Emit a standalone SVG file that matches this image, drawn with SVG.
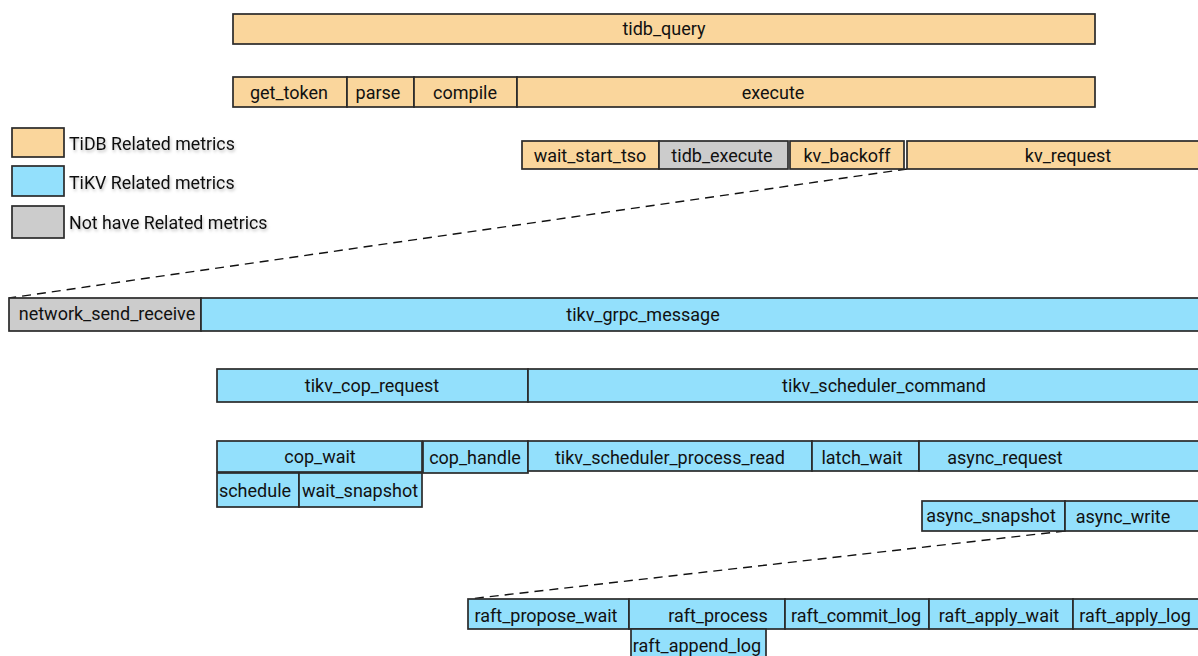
<svg xmlns="http://www.w3.org/2000/svg" width="1198" height="656" viewBox="0 0 1198 656">
<defs>
<style>
.db,.kv,.na{stroke:#2a2a2a;stroke-width:1.7}
.db{fill:#FAD69C}
.kv{fill:#93E0FC}
.na{fill:#CCCCCC}
text{font-family:Roboto,"Liberation Sans",sans-serif;font-size:18px;fill:#111;text-anchor:middle;dominant-baseline:central}
.lg{text-anchor:start;font-size:17.8px}
.dash{stroke:#111;stroke-width:1.4;stroke-dasharray:9 6;fill:none}
</style>
<filter id="sh" x="-10%" y="-30%" width="130%" height="180%">
<feDropShadow dx="1" dy="2" stdDeviation="1.5" flood-color="#000" flood-opacity="0.25"/>
</filter>
</defs>
<rect width="1198" height="656" fill="#fff"/>

<g id="legend">
<rect class="db" x="12" y="128" width="52" height="29"/>
<text class="lg" x="69" y="143" filter="url(#sh)">TiDB Related metrics</text>
<rect class="kv" x="12" y="166" width="52" height="30"/>
<text class="lg" x="69" y="182" filter="url(#sh)">TiKV Related metrics</text>
<rect class="na" x="12" y="206" width="52" height="32"/>
<text class="lg" x="69" y="222" filter="url(#sh)">Not have Related metrics</text>
</g>

<g id="connectors">
<line class="dash" x1="907" y1="169" x2="9" y2="298"/>
<line class="dash" x1="1065" y1="531" x2="469" y2="599"/>
</g>

<g id="tidb_query"><rect class="db" x="233" y="14" width="862" height="30"/><text x="664" y="28">tidb_query</text></g>

<g id="get_token"><rect class="db" x="233" y="77" width="114" height="30"/><text x="289" y="92">get_token</text></g>
<g id="parse"><rect class="db" x="347" y="77" width="67" height="30"/><text x="378" y="92">parse</text></g>
<g id="compile"><rect class="db" x="414" y="77" width="103" height="30"/><text x="465" y="92">compile</text></g>
<g id="execute"><rect class="db" x="517" y="77" width="578" height="30"/><text x="773" y="92">execute</text></g>

<g id="wait_start_tso"><rect class="db" x="522" y="141" width="137" height="28"/><text x="590" y="155">wait_start_tso</text></g>
<g id="tidb_execute"><rect class="na" x="659" y="141" width="129" height="28"/><text x="722" y="155">tidb_execute</text></g>
<g id="kv_backoff"><rect class="db" x="790" y="141" width="114" height="28"/><text x="847" y="155">kv_backoff</text></g>
<g id="kv_request"><rect class="db" x="907" y="141" width="292" height="28"/><text x="1068" y="155">kv_request</text></g>

<g id="network_send_receive"><rect class="na" x="9" y="298" width="192" height="33"/><text x="107" y="313">network_send_receive</text></g>
<g id="tikv_grpc_message"><rect class="kv" x="201" y="298" width="998" height="33"/><text x="643" y="314">tikv_grpc_message</text></g>

<g id="tikv_cop_request"><rect class="kv" x="217" y="369" width="311" height="33"/><text x="372" y="385">tikv_cop_request</text></g>
<g id="tikv_scheduler_command"><rect class="kv" x="528" y="369" width="671" height="33"/><text x="884" y="385">tikv_scheduler_command</text></g>

<g id="cop_wait"><rect class="kv" x="217" y="441" width="205" height="31"/><text x="320" y="456">cop_wait</text></g>
<g id="cop_handle"><rect class="kv" x="423" y="441" width="105" height="32"/><text x="475" y="457">cop_handle</text></g>
<g id="tikv_scheduler_process_read"><rect class="kv" x="528" y="441" width="284" height="30"/><text x="670" y="457">tikv_scheduler_process_read</text></g>
<g id="latch_wait"><rect class="kv" x="812" y="441" width="107" height="30"/><text x="862" y="457">latch_wait</text></g>
<g id="async_request"><rect class="kv" x="919" y="441" width="280" height="30"/><text x="1005" y="457">async_request</text></g>

<g id="schedule"><rect class="kv" x="217" y="473" width="82" height="34"/><text x="255" y="490">schedule</text></g>
<g id="wait_snapshot"><rect class="kv" x="299" y="473" width="123" height="34"/><text x="360" y="490">wait_snapshot</text></g>

<g id="async_snapshot"><rect class="kv" x="922" y="501" width="143" height="30"/><text x="991" y="515">async_snapshot</text></g>
<g id="async_write"><rect class="kv" x="1065" y="501" width="134" height="30"/><text x="1123" y="516">async_write</text></g>

<g id="raft_propose_wait"><rect class="kv" x="468" y="599" width="161" height="30"/><text x="546" y="615">raft_propose_wait</text></g>
<g id="raft_process"><rect class="kv" x="629" y="599" width="156" height="30"/><text x="718" y="615">raft_process</text></g>
<g id="raft_commit_log"><rect class="kv" x="785" y="599" width="144" height="30"/><text x="856" y="615">raft_commit_log</text></g>
<g id="raft_apply_wait"><rect class="kv" x="929" y="599" width="144" height="30"/><text x="999" y="615">raft_apply_wait</text></g>
<g id="raft_apply_log"><rect class="kv" x="1073" y="599" width="126" height="30"/><text x="1135" y="615">raft_apply_log</text></g>
<g id="raft_append_log"><rect class="kv" x="631" y="629" width="135" height="30"/><text x="697" y="645">raft_append_log</text></g>
</svg>
